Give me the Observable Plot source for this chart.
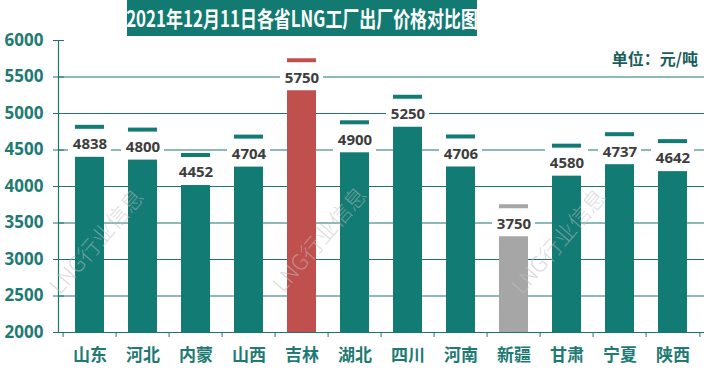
<!DOCTYPE html>
<html>
<head>
<meta charset="utf-8">
<script src="https://cdn.jsdelivr.net/npm/d3@7"></script>
<script src="https://cdn.jsdelivr.net/npm/@observablehq/plot@0.6"></script>
<style>
  html, body { margin: 0; padding: 0; background: #fff; }
  #wrap { position: relative; width: 721px; height: 376px; overflow: hidden; font-family: "Noto Sans", "Noto Sans CJK SC", sans-serif; }
  #title { position: absolute; left: 127px; top: 0; width: 350px; height: 36px; background: #137a72; }
  #title span { position: absolute; left: 50%; top: 50%; white-space: nowrap; color: #fff; font-weight: bold;
    font-size: 22px; font-family: "Noto Sans CJK SC", sans-serif; transform: translate(-50%, -52%) scaleX(0.77); }
  #unit { position: absolute; right: 23px; top: 46px; font-size: 16px; font-weight: bold; color: #1b5e59; font-family: "Noto Sans CJK SC", sans-serif; }
  .wm { position: absolute; white-space: nowrap; font-size: 22px; color: rgba(190,190,190,0.55); font-family: "Noto Sans CJK SC", sans-serif; font-weight: 300;
    transform: translate(-50%, -50%) rotate(-49deg); pointer-events: none; }
  svg { position: absolute; left: 0; top: 0; }
</style>
</head>
<body>
<div id="wrap">
  <div id="chart"></div>
  <div id="title"><span></span></div>
  <div id="unit"></div>
</div>
<script>
const titleText = "2021年12月11日各省LNG工厂出厂价格对比图";
const unitText = "单位：元/吨";
const watermarkText = "LNG行业信息";
const provinces = ["山东", "河北", "内蒙", "山西", "吉林", "湖北", "四川", "河南", "新疆", "甘肃", "宁夏", "陕西"];
const prices = [4838, 4800, 4452, 4704, 5750, 4900, 5250, 4706, 3750, 4580, 4737, 4642];
const barColors = ["#117b74", "#117b74", "#117b74", "#117b74", "#c0504d", "#117b74", "#117b74", "#117b74", "#a6a6a6", "#117b74", "#117b74", "#117b74"];
const yTicks = [2000, 2500, 3000, 3500, 4000, 4500, 5000, 5500, 6000];
const gridValues = [2500, 3000, 3500, 4000, 4500, 5000, 5500];

const data = provinces.map((p, i) => ({province: p, price: prices[i], color: barColors[i]}));

const W = 721, H = 376, ML = 58, MR = 17, MT = 40, MB = 44;
const bw = (W - ML - MR) / provinces.length;
const axisColor = "#1f756e";

const chart = Plot.plot({
  width: W, height: H,
  marginLeft: ML, marginRight: MR, marginTop: MT, marginBottom: MB,
  style: {background: "transparent", fontFamily: "'Noto Sans', 'Noto Sans CJK SC', sans-serif", overflow: "visible"},
  x: {type: "band", domain: provinces, padding: 0},
  y: {domain: [2000, 6000]},
  marks: [
    Plot.ruleY(gridValues, {stroke: axisColor, strokeWidth: 1.2}),
    Plot.ruleY([2000], {stroke: axisColor, strokeWidth: 1.2}),
    Plot.frame({anchor: "left", stroke: axisColor, strokeWidth: 1.2}),
    Plot.axisY({ticks: yTicks, tickSize: 11, dx: 6, tickPadding: 10, stroke: axisColor, fill: "#1e7a73",
      fontSize: 17, fontWeight: "bold", tickFormat: d => String(d), label: null}),
    Plot.axisX({tickSize: 0, tickPadding: 16, fill: "#1e7a73", fontSize: 17, fontWeight: "bold", label: null,
      fontFamily: "'Noto Sans CJK SC', sans-serif"}),
    Plot.ruleX(provinces, {x: d => d, y1: 2000, y2: 2000, insetBottom: -5, dx: -bw / 2, stroke: axisColor}),
    Plot.ruleX(provinces.slice(-1), {x: d => d, y1: 2000, y2: 2000, insetBottom: -5, dx: bw / 2, stroke: axisColor}),
    Plot.barY(data, {x: "province", y1: 2000, y2: "price", fill: "color", insetLeft: 12, insetRight: 12}),
    Plot.barY(data, {x: "province", y1: "price", y2: "price", fill: "white", insetTop: 4, insetBottom: -32, insetLeft: 5, insetRight: 5}),
    Plot.text(data, {x: "province", y: "price", dy: 19, text: d => String(d.price), fill: "#3d3d3d",
      fontSize: 15, fontWeight: "bold", lineAnchor: "middle"})
  ]
});
document.getElementById("chart").appendChild(chart);
document.querySelector("#title span").textContent = titleText;
document.getElementById("unit").textContent = unitText;

const wmCenters = [[95, 240], [318, 238], [557, 240]];
const wrap = document.getElementById("wrap");
for (const [cx, cy] of wmCenters) {
  const s = document.createElement("div");
  s.className = "wm";
  s.style.left = cx + "px";
  s.style.top = cy + "px";
  s.textContent = watermarkText;
  wrap.appendChild(s);
}
</script>
</body>
</html>
